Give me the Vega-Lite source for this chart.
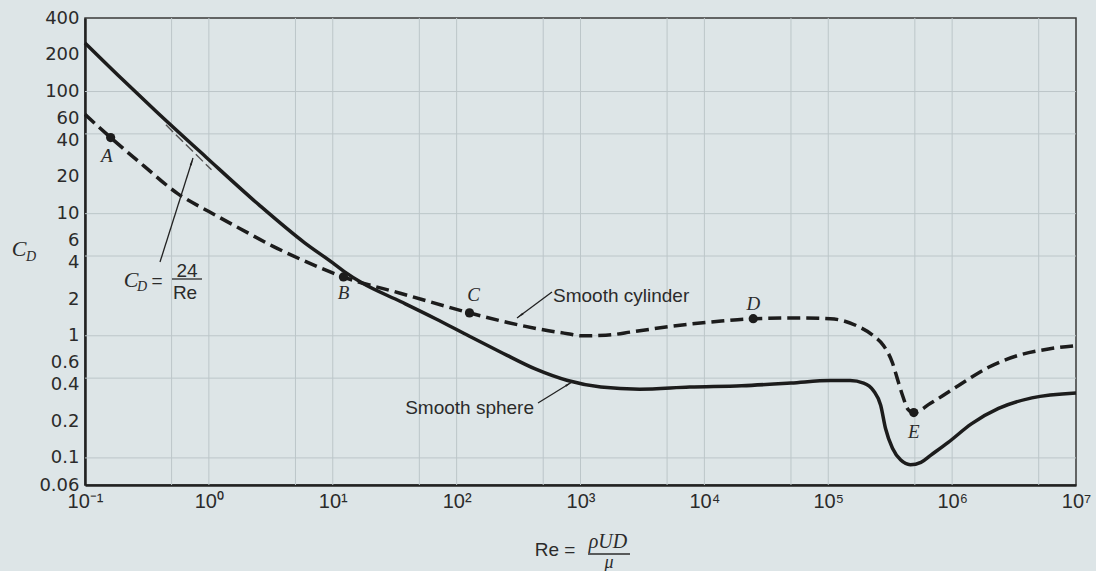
{
  "$schema": "https://vega.github.io/schema/vega-lite/v6.json",
  "width": 991,
  "height": 467,
  "autosize": {"type": "none"},
  "padding": {"left": 85, "top": 18, "right": 20, "bottom": 86},
  "background": "#dde5e7",
  "config": {
    "view": {"stroke": "#3a3a3a", "strokeWidth": 1.5},
    "axis": {"grid": false, "ticks": false, "domainColor": "#222222", "domainWidth": 2.5, "labelColor": "#2b2b2b"}
  },
  "resolve": {"axis": {"x": "independent", "y": "independent"}},
  "datasets": {
    "gridx": [{"Re": 0.5}, {"Re": 1}, {"Re": 5}, {"Re": 10}, {"Re": 50}, {"Re": 100}, {"Re": 500}, {"Re": 1000}, {"Re": 5000}, {"Re": 10000}, {"Re": 50000}, {"Re": 100000}, {"Re": 500000}, {"Re": 1000000}, {"Re": 5000000}],
    "gridy": [{"CD": 0.1}, {"CD": 0.45}, {"CD": 1}, {"CD": 4.5}, {"CD": 10}, {"CD": 45}, {"CD": 100}],
    "stokes": [{"Re": 0.45, "CD": 53.33}, {"Re": 1.05, "CD": 22.86}],
    "sphere": [
      {"Re": 0.1, "CD": 250}, {"Re": 0.2, "CD": 126}, {"Re": 0.374, "CD": 69}, {"Re": 0.95, "CD": 29},
      {"Re": 2.54, "CD": 11.8}, {"Re": 5.9, "CD": 5.8}, {"Re": 10, "CD": 3.95}, {"Re": 12.4, "CD": 3.35},
      {"Re": 17.3, "CD": 2.7}, {"Re": 35.6, "CD": 1.9}, {"Re": 67.6, "CD": 1.38}, {"Re": 127, "CD": 0.99},
      {"Re": 236, "CD": 0.72}, {"Re": 431, "CD": 0.535}, {"Re": 788, "CD": 0.43}, {"Re": 1460, "CD": 0.38},
      {"Re": 3000, "CD": 0.365}, {"Re": 7600, "CD": 0.38},
      {"Re": 20000, "CD": 0.39}, {"Re": 50000, "CD": 0.41}, {"Re": 104000, "CD": 0.43}, {"Re": 150000, "CD": 0.43},
      {"Re": 193000, "CD": 0.41}, {"Re": 232000, "CD": 0.355}, {"Re": 265000, "CD": 0.27}, {"Re": 290000, "CD": 0.174},
      {"Re": 330000, "CD": 0.12}, {"Re": 385000, "CD": 0.096}, {"Re": 460000, "CD": 0.088}, {"Re": 560000, "CD": 0.092},
      {"Re": 670000, "CD": 0.105}, {"Re": 930000, "CD": 0.134}, {"Re": 1430000, "CD": 0.19}, {"Re": 2370000, "CD": 0.254},
      {"Re": 4400000, "CD": 0.31}, {"Re": 10000000, "CD": 0.34}
    ],
    "cylinder": [
      {"Re": 0.1, "CD": 65}, {"Re": 0.161, "CD": 42}, {"Re": 0.3, "CD": 24.5}, {"Re": 0.56, "CD": 14.6},
      {"Re": 1, "CD": 10.4}, {"Re": 1.76, "CD": 7.6}, {"Re": 3.3, "CD": 5.4}, {"Re": 5.9, "CD": 4.1},
      {"Re": 12.2, "CD": 3.03}, {"Re": 35.6, "CD": 2.22}, {"Re": 127, "CD": 1.54}, {"Re": 263, "CD": 1.28},
      {"Re": 500, "CD": 1.12}, {"Re": 788, "CD": 1.04}, {"Re": 1018, "CD": 1.0}, {"Re": 1600, "CD": 1.01},
      {"Re": 2660, "CD": 1.08}, {"Re": 5500, "CD": 1.2}, {"Re": 13700, "CD": 1.32}, {"Re": 24800, "CD": 1.38},
      {"Re": 60000, "CD": 1.4},
      {"Re": 104000, "CD": 1.38}, {"Re": 172000, "CD": 1.2}, {"Re": 232000, "CD": 1.0}, {"Re": 280000, "CD": 0.83},
      {"Re": 330000, "CD": 0.6}, {"Re": 360000, "CD": 0.45}, {"Re": 400000, "CD": 0.32}, {"Re": 440000, "CD": 0.25},
      {"Re": 490000, "CD": 0.235}, {"Re": 670000, "CD": 0.28}, {"Re": 1120000, "CD": 0.39}, {"Re": 1950000, "CD": 0.55},
      {"Re": 3400000, "CD": 0.69}, {"Re": 6000000, "CD": 0.78}, {"Re": 10000000, "CD": 0.83}
    ],
    "points": [
      {"name": "A", "Re": 0.161, "CD": 42}, {"name": "B", "Re": 12.2, "CD": 3.03}, {"name": "C", "Re": 127, "CD": 1.54},
      {"name": "D", "Re": 24800, "CD": 1.38}, {"name": "E", "Re": 490000, "CD": 0.235}
    ],
    "letters": [
      {"t": "A", "Re": 0.15, "CD": 29.9}, {"t": "B", "Re": 12.2, "CD": 2.24}, {"t": "C", "Re": 137, "CD": 2.16},
      {"t": "D", "Re": 24800, "CD": 1.82}, {"t": "E", "Re": 490000, "CD": 0.163}
    ],
    "arrows": [
      {"Re": 0.4032, "CD": 4.018, "Re2": 0.7444, "CD2": 28.56},
      {"Re": 588.8, "CD": 2.283, "Re2": 307.3, "CD2": 1.398},
      {"Re": 453.9, "CD": 0.2815, "Re2": 853.9, "CD2": 0.4183}
    ],
    "heads": [
      {"id": 1, "Re": 0.7239, "CD": 26.09}, {"id": 2, "Re": 330.9, "CD": 1.48}, {"id": 3, "Re": 789, "CD": 0.3984}
    ],
    "bars": [
      {"Re": 0.5039, "Re2": 0.88, "CD": 2.917}, {"Re": 1150, "Re2": 2509, "CD": 0.01634}
    ],
    "serifBig": [{"t": "C", "Re": 0.02932, "CD": 5.136}, {"t": "C", "Re": 0.2351, "CD": 2.862}],
    "serifSub": [{"t": "D", "Re": 0.03665, "CD": 4.416}, {"t": "D", "Re": 0.2884, "CD": 2.508}],
    "sansText": [
      {"t": "=", "Re": 0.3813, "CD": 2.809}, {"t": "24", "Re": 0.6658, "CD": 3.393}, {"t": "Re", "Re": 0.6418, "CD": 2.24},
      {"t": "Re =", "Re": 622.6, "CD": 0.01762}
    ],
    "serifTitle": [{"t": "ρUD", "Re": 1667, "CD": 0.02049}],
    "serifMu": [{"t": "μ", "Re": 1699, "CD": 0.01378}],
    "noteLeft": [{"t": "Smooth cylinder", "Re": 599.8, "CD": 1.891}],
    "noteRight": [{"t": "Smooth sphere", "Re": 421.5, "CD": 0.2289}]
  },
  "layer": [
    {
      "data": {"name": "gridx"},
      "mark": {"type": "rule", "color": "#bcc6c9", "strokeWidth": 1},
      "encoding": {"x": {"field": "Re", "type": "quantitative", "scale": {"type": "log", "domain": [0.1, 10000000], "nice": false}, "axis": null}}
    },
    {
      "data": {"name": "gridy"},
      "mark": {"type": "rule", "color": "#bcc6c9", "strokeWidth": 1},
      "encoding": {"y": {"field": "CD", "type": "quantitative", "scale": {"type": "log", "domain": [0.06, 400], "nice": false}, "axis": null}}
    },
    {
      "data": {"name": "stokes"},
      "mark": {"type": "line", "color": "#555555", "strokeWidth": 1.4, "strokeDash": [10, 4]},
      "encoding": {
        "x": {"field": "Re", "type": "quantitative", "scale": {"type": "log", "domain": [0.1, 10000000], "nice": false}, "axis": null},
        "y": {"field": "CD", "type": "quantitative", "scale": {"type": "log", "domain": [0.06, 400], "nice": false}, "axis": null}
      }
    },
    {
      "data": {"name": "sphere"},
      "mark": {"type": "line", "color": "#1c1c1c", "strokeWidth": 3.5, "interpolate": "monotone"},
      "encoding": {
        "x": {"field": "Re", "type": "quantitative", "scale": {"type": "log", "domain": [0.1, 10000000], "nice": false},
          "axis": {"title": null, "values": [0.1, 1, 10, 100, 1000, 10000, 100000, 1000000, 10000000],
            "labelExpr": "datum.value < 0.5 ? '10⁻¹' : datum.value < 5 ? '10⁰' : datum.value < 50 ? '10¹' : datum.value < 500 ? '10²' : datum.value < 5000 ? '10³' : datum.value < 50000 ? '10⁴' : datum.value < 500000 ? '10⁵' : datum.value < 5000000 ? '10⁶' : '10⁷'",
            "labelFont": "Liberation Sans", "labelFontSize": 20, "labelPadding": 6, "labelFlush": false, "labelOverlap": false}},
        "y": {"field": "CD", "type": "quantitative", "scale": {"type": "log", "domain": [0.06, 400], "nice": false},
          "axis": {"title": null, "values": [0.06, 0.1, 0.2, 0.4, 0.6, 1, 2, 4, 6, 10, 20, 40, 60, 100, 200, 400], "format": "~g",
            "labelFont": "DejaVu Sans", "labelFontSize": 18, "labelPadding": 6, "labelFlush": false, "labelOverlap": false}}
      }
    },
    {
      "data": {"name": "cylinder"},
      "mark": {"type": "line", "color": "#1c1c1c", "strokeWidth": 3.5, "strokeDash": [13, 6], "interpolate": "monotone"},
      "encoding": {
        "x": {"field": "Re", "type": "quantitative", "scale": {"type": "log", "domain": [0.1, 10000000], "nice": false}, "axis": null},
        "y": {"field": "CD", "type": "quantitative", "scale": {"type": "log", "domain": [0.06, 400], "nice": false}, "axis": null}
      }
    },
    {
      "data": {"name": "points"},
      "mark": {"type": "point", "filled": true, "size": 85, "color": "#1c1c1c", "opacity": 1},
      "encoding": {
        "x": {"field": "Re", "type": "quantitative", "scale": {"type": "log", "domain": [0.1, 10000000], "nice": false}, "axis": null},
        "y": {"field": "CD", "type": "quantitative", "scale": {"type": "log", "domain": [0.06, 400], "nice": false}, "axis": null}
      }
    },
    {
      "data": {"name": "arrows"},
      "mark": {"type": "rule", "color": "#222222", "strokeWidth": 1.3},
      "encoding": {
        "x": {"field": "Re", "type": "quantitative", "scale": {"type": "log", "domain": [0.1, 10000000], "nice": false}, "axis": null},
        "y": {"field": "CD", "type": "quantitative", "scale": {"type": "log", "domain": [0.06, 400], "nice": false}, "axis": null},
        "x2": {"field": "Re2"},
        "y2": {"field": "CD2"}
      }
    },
    {
      "data": {"name": "heads"},
      "transform": [{"filter": "datum.id == 1"}],
      "mark": {"type": "point", "shape": "wedge", "filled": true, "size": 70, "angle": 17.6, "color": "#222222", "opacity": 1},
      "encoding": {
        "x": {"field": "Re", "type": "quantitative", "scale": {"type": "log", "domain": [0.1, 10000000], "nice": false}, "axis": null},
        "y": {"field": "CD", "type": "quantitative", "scale": {"type": "log", "domain": [0.06, 400], "nice": false}, "axis": null}
      }
    },
    {
      "data": {"name": "heads"},
      "transform": [{"filter": "datum.id == 2"}],
      "mark": {"type": "point", "shape": "wedge", "filled": true, "size": 70, "angle": 233.4, "color": "#222222", "opacity": 1},
      "encoding": {
        "x": {"field": "Re", "type": "quantitative", "scale": {"type": "log", "domain": [0.1, 10000000], "nice": false}, "axis": null},
        "y": {"field": "CD", "type": "quantitative", "scale": {"type": "log", "domain": [0.06, 400], "nice": false}, "axis": null}
      }
    },
    {
      "data": {"name": "heads"},
      "transform": [{"filter": "datum.id == 3"}],
      "mark": {"type": "point", "shape": "wedge", "filled": true, "size": 70, "angle": 58.3, "color": "#222222", "opacity": 1},
      "encoding": {
        "x": {"field": "Re", "type": "quantitative", "scale": {"type": "log", "domain": [0.1, 10000000], "nice": false}, "axis": null},
        "y": {"field": "CD", "type": "quantitative", "scale": {"type": "log", "domain": [0.06, 400], "nice": false}, "axis": null}
      }
    },
    {
      "data": {"name": "bars"},
      "mark": {"type": "rule", "color": "#2b2b2b", "strokeWidth": 1.3},
      "encoding": {
        "x": {"field": "Re", "type": "quantitative", "scale": {"type": "log", "domain": [0.1, 10000000], "nice": false}, "axis": null},
        "x2": {"field": "Re2"},
        "y": {"field": "CD", "type": "quantitative", "scale": {"type": "log", "domain": [0.06, 400], "nice": false}, "axis": null}
      }
    },
    {
      "data": {"name": "letters"},
      "mark": {"type": "text", "font": "Liberation Serif", "fontStyle": "italic", "fontSize": 19, "color": "#2b2b2b", "baseline": "middle", "align": "center"},
      "encoding": {
        "x": {"field": "Re", "type": "quantitative", "scale": {"type": "log", "domain": [0.1, 10000000], "nice": false}, "axis": null},
        "y": {"field": "CD", "type": "quantitative", "scale": {"type": "log", "domain": [0.06, 400], "nice": false}, "axis": null},
        "text": {"field": "t"}
      }
    },
    {
      "data": {"name": "serifBig"},
      "mark": {"type": "text", "font": "Liberation Serif", "fontStyle": "italic", "fontSize": 22, "color": "#2b2b2b", "baseline": "middle", "align": "center"},
      "encoding": {
        "x": {"field": "Re", "type": "quantitative", "scale": {"type": "log", "domain": [0.1, 10000000], "nice": false}, "axis": null},
        "y": {"field": "CD", "type": "quantitative", "scale": {"type": "log", "domain": [0.06, 400], "nice": false}, "axis": null},
        "text": {"field": "t"}
      }
    },
    {
      "data": {"name": "serifSub"},
      "mark": {"type": "text", "font": "Liberation Serif", "fontStyle": "italic", "fontSize": 14, "color": "#2b2b2b", "baseline": "middle", "align": "center"},
      "encoding": {
        "x": {"field": "Re", "type": "quantitative", "scale": {"type": "log", "domain": [0.1, 10000000], "nice": false}, "axis": null},
        "y": {"field": "CD", "type": "quantitative", "scale": {"type": "log", "domain": [0.06, 400], "nice": false}, "axis": null},
        "text": {"field": "t"}
      }
    },
    {
      "data": {"name": "sansText"},
      "mark": {"type": "text", "font": "Liberation Sans", "fontSize": 19, "color": "#2b2b2b", "baseline": "middle", "align": "center"},
      "encoding": {
        "x": {"field": "Re", "type": "quantitative", "scale": {"type": "log", "domain": [0.1, 10000000], "nice": false}, "axis": null},
        "y": {"field": "CD", "type": "quantitative", "scale": {"type": "log", "domain": [0.06, 400], "nice": false}, "axis": null},
        "text": {"field": "t"}
      }
    },
    {
      "data": {"name": "serifTitle"},
      "mark": {"type": "text", "font": "Liberation Serif", "fontStyle": "italic", "fontSize": 20, "color": "#2b2b2b", "baseline": "middle", "align": "center"},
      "encoding": {
        "x": {"field": "Re", "type": "quantitative", "scale": {"type": "log", "domain": [0.1, 10000000], "nice": false}, "axis": null},
        "y": {"field": "CD", "type": "quantitative", "scale": {"type": "log", "domain": [0.06, 400], "nice": false}, "axis": null},
        "text": {"field": "t"}
      }
    },
    {
      "data": {"name": "serifMu"},
      "mark": {"type": "text", "font": "Liberation Serif", "fontStyle": "italic", "fontSize": 18, "color": "#2b2b2b", "baseline": "middle", "align": "center"},
      "encoding": {
        "x": {"field": "Re", "type": "quantitative", "scale": {"type": "log", "domain": [0.1, 10000000], "nice": false}, "axis": null},
        "y": {"field": "CD", "type": "quantitative", "scale": {"type": "log", "domain": [0.06, 400], "nice": false}, "axis": null},
        "text": {"field": "t"}
      }
    },
    {
      "data": {"name": "noteLeft"},
      "mark": {"type": "text", "font": "Liberation Sans", "fontSize": 19, "color": "#2b2b2b", "baseline": "alphabetic", "align": "left"},
      "encoding": {
        "x": {"field": "Re", "type": "quantitative", "scale": {"type": "log", "domain": [0.1, 10000000], "nice": false}, "axis": null},
        "y": {"field": "CD", "type": "quantitative", "scale": {"type": "log", "domain": [0.06, 400], "nice": false}, "axis": null},
        "text": {"field": "t"}
      }
    },
    {
      "data": {"name": "noteRight"},
      "mark": {"type": "text", "font": "Liberation Sans", "fontSize": 19, "color": "#2b2b2b", "baseline": "alphabetic", "align": "right"},
      "encoding": {
        "x": {"field": "Re", "type": "quantitative", "scale": {"type": "log", "domain": [0.1, 10000000], "nice": false}, "axis": null},
        "y": {"field": "CD", "type": "quantitative", "scale": {"type": "log", "domain": [0.06, 400], "nice": false}, "axis": null},
        "text": {"field": "t"}
      }
    }
  ]
}
